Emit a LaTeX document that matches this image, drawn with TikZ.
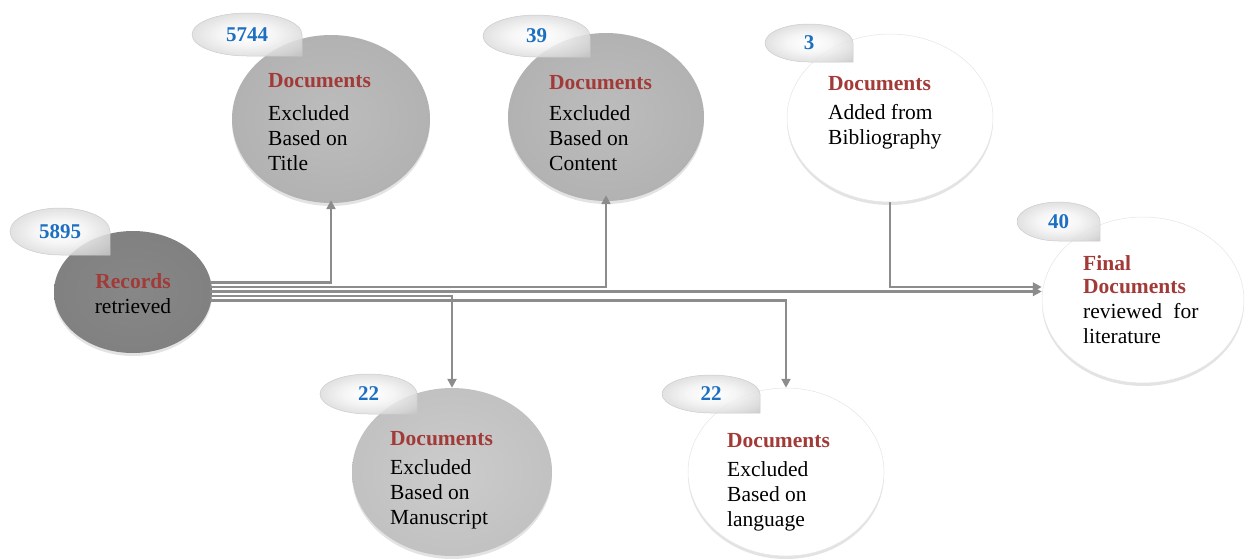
\documentclass[tikz,border=0pt]{standalone}
\usepackage{fontspec}
\setmainfont{Liberation Serif}
\usetikzlibrary{arrows.meta,shapes.geometric,shadows}

\definecolor{docred}{HTML}{A23A38}
\definecolor{numblue}{HTML}{1D6FC2}
\definecolor{linegray}{HTML}{8C8C8C}

% ball shadings: dark, mid grey and white
\pgfdeclareradialshading{recshade}{\pgfpoint{0bp}{0bp}}{%
  color(0bp)=(black!47); color(30bp)=(black!50); color(44bp)=(black!54); color(50bp)=(black!60)}
\pgfdeclareradialshading{greyshade}{\pgfpoint{0bp}{0bp}}{%
  color(0bp)=(black!26); color(30bp)=(black!31); color(44bp)=(black!36); color(50bp)=(black!42)}
\pgfdeclareradialshading{lightgreyshade}{\pgfpoint{0bp}{0bp}}{%
  color(0bp)=(black!20); color(30bp)=(black!25); color(44bp)=(black!30); color(50bp)=(black!37)}
\pgfdeclareradialshading{whiteshade}{\pgfpoint{0bp}{0bp}}{%
  color(0bp)=(white); color(32bp)=(white); color(44bp)=(black!4); color(50bp)=(black!11)}
% badge: glossy centre, grey rim
\pgfdeclareradialshading{badgeshade}{\pgfpoint{0bp}{0bp}}{%
  color(0bp)=(white); color(12bp)=(black!4); color(28bp)=(black!16); color(50bp)=(black!38)}

\newcommand\hd[1]{\textcolor{docred}{\textbf{#1}}}

% count badge: ellipse with a square lower-right corner
\newcommand\tagbadge[6]{%
  \pgfmathsetmacro\bcx{(#1+#3)/2}%
  \pgfmathsetmacro\bcy{(#2+#4)/2}%
  \pgfmathsetmacro\brx{(#3-#1)/2}%
  \pgfmathsetmacro\bry{(#4-#2)/2}%
  \path[badge] (#3,\bcy) arc[start angle=0,end angle=-270,x radius=\brx,y radius=\bry]
     -- (#3,#4) -- cycle;
  \node[numtext] (#5) at (\bcx,\bcy) {#6};
}

\begin{document}
\begin{tikzpicture}[x=1pt,y=-1pt,
  ball/.style={ellipse, inner sep=0pt,
    drop shadow={opacity=0.22,shadow xshift=0pt,shadow yshift=-3pt}},
  recball/.style={ball, shading=recshade},
  greyball/.style={ball, shading=greyshade},
  lgreyball/.style={ball, shading=lightgreyshade},
  whiteball/.style={ball, shading=whiteshade, draw=black!10, line width=0.5pt},
  badge/.style={shading=badgeshade, draw=black!20,
    line width=0.5pt, fill opacity=0.85},
  numtext/.style={font=\fontsize{21}{25}\selectfont\bfseries, text=numblue, inner sep=0pt},
  txt/.style={anchor=north west, align=left, inner sep=0pt,
    font=\fontsize{21.5}{25}\selectfont},
  conn/.style={draw=linegray, line width=2.8pt},
  arr/.style={conn, -{Triangle[length=9pt,width=9pt]}}
]
\useasboundingbox (0,0) rectangle (1245,558);

% balls
\node[recball,  minimum width=158pt, minimum height=122pt] (rec) at (133,292) {};
\node[greyball, minimum width=198pt, minimum height=168pt] (tit) at (331,119) {};
\node[greyball, minimum width=196pt, minimum height=168pt] (con) at (606,117) {};
\node[whiteball,minimum width=206pt, minimum height=168pt] (bib) at (890,118) {};
\node[whiteball,minimum width=202pt, minimum height=166pt] (fin) at (1143,300) {};
\node[lgreyball,minimum width=200pt, minimum height=168pt] (man) at (452,472) {};
\node[whiteball,minimum width=196pt, minimum height=168pt] (lan) at (786,472) {};

% count badges
\tagbadge{10}{208}{110}{255}{n1}{5895}
\tagbadge{192}{13}{302}{56}{n2}{5744}
\tagbadge{483}{15}{590}{57}{n3}{39}
\tagbadge{765}{24}{853}{62}{n4}{3}
\tagbadge{1017}{202}{1100}{241}{n5}{40}
\tagbadge{320}{374}{417}{414}{n6}{22}
\tagbadge{662}{375}{760}{413}{n7}{22}

% texts
\node[txt, anchor=center, align=center] (rec-t) at (133,294) {\hd{Records}\\retrieved};
\node[txt] (tit-t) at (268,73) {\hd{Documents}\\[8pt]Excluded\\Based on\\Title};
\node[txt] (con-t) at (549,75) {\hd{Documents}\\[6pt]Excluded\\Based on\\Content};
\node[txt] (bib-t) at (828,76) {\hd{Documents}\\[4pt]Added from\\Bibliography};
\node[txt] (fin-t) at (1083,255) {\hd{Final}\\[-2pt]\hd{Documents}\\reviewed\hspace{6pt} for\\literature};
\node[txt] (man-t) at (390,431) {\hd{Documents}\\[4pt]Excluded\\Based on\\Manuscript};
\node[txt] (lan-t) at (727,433) {\hd{Documents}\\[4pt]Excluded\\Based on\\language};

% bus leaving the records ball
\coordinate (b1) at (210,282.5);
\coordinate (b2) at (210,287);
\coordinate (b3) at (210,291.5);
\coordinate (b4) at (210,296);
\coordinate (b5) at (210,300.5);

\draw[arr, shorten >=-3pt] (b1) -| (tit.south);
\draw[arr, shorten >=-6pt] (b2) -| (con.south);
\draw[arr] (b3) -- (b3 -| fin.west);
\draw[arr] (b4) -| (man.north);
\draw[arr] (b5) -| (lan.north);
\draw[arr] (bib.south) |- (fin.west |- b2);
\end{tikzpicture}
\end{document}
